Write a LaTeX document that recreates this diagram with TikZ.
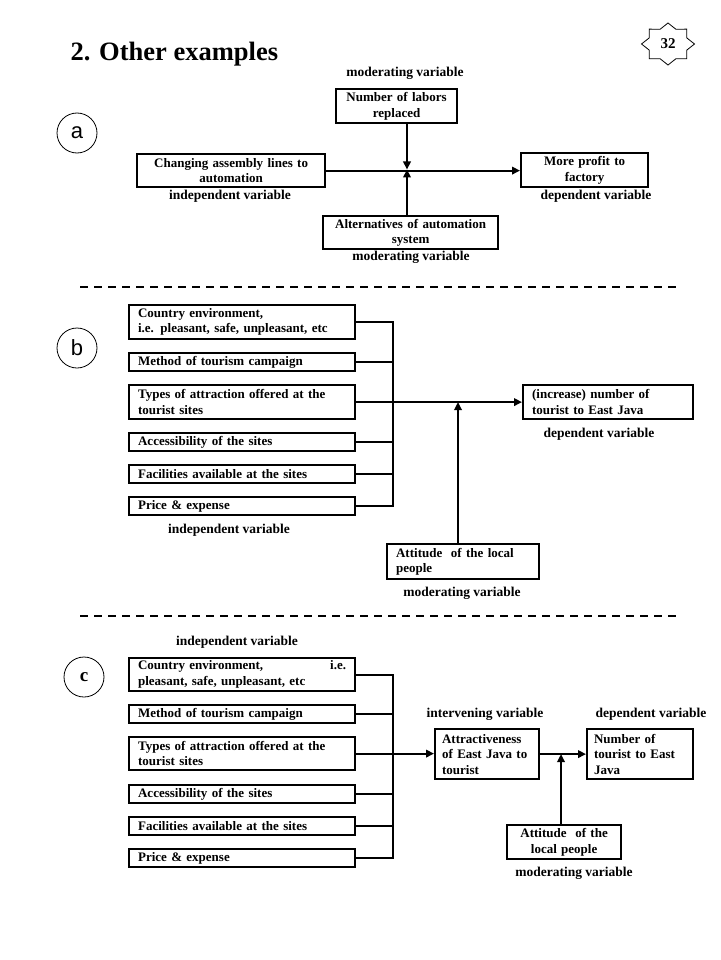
\documentclass[tikz,border=0pt]{standalone}
\usepackage{fontspec}
\setmainfont{Liberation Serif}
\setsansfont{Liberation Sans}
\usetikzlibrary{arrows.meta}
\tikzset{
  vbox/.style={draw, line width=2.2pt, inner xsep=9pt, inner ysep=0pt, anchor=north west, font=\fontsize{13}{15.5}\selectfont\bfseries},
  varlab/.style={anchor=base, font=\fontsize{13.5}{14.5}\selectfont\bfseries},
  link/.style={line width=2pt},
  tip/.style={line width=2pt, -{Triangle[length=8pt,width=7.5pt]}},
  tag/.style={circle, draw, line width=0.8pt, minimum size=40pt, inner sep=0pt},
  cut/.style={line width=2pt, dash pattern=on 8pt off 6pt}
}
\begin{document}
\begin{tikzpicture}[x=1pt, y=-1pt]
    \useasboundingbox[fill=white] (0,0) rectangle (720,960);

    \node[anchor=base west, font=\fontsize{26.5}{30}\selectfont\bfseries] (title) at (67,61) {2. Other examples};
    \coordinate (badge) at (668,44);
    \draw[line width=0.8pt, shift={(badge)}, x=26.5pt, y=21pt] (0:1)
        \foreach \k in {1,...,15}{ -- ({\k*22.5}:{1-0.235*mod(\k,2)}) } -- cycle;
    \node[font=\fontsize{15}{15}\selectfont\bfseries] (badge_num) at (badge) {32};

    \node[tag, font=\sffamily\fontsize{22}{22}\selectfont] (tag_a) at (77,133) {a};
    \node[tag, font=\sffamily\fontsize{22}{22}\selectfont] (tag_b) at (77,348) {b};
    \node[tag, font=\fontsize{19}{19}\selectfont\bfseries] (tag_c) at (84,677) {c};

    \node[varlab](A_modtop) at (405,77) {moderating variable};
    \node[vbox, align=center, inner xsep=3pt, text width=115pt, minimum height=34pt](A_labor) at (335,88) {Number of labors\\replaced};
    \node[vbox, align=center, inner xsep=3pt, text width=182pt, minimum height=33pt](A_change) at (136,153) {Changing assembly lines to\\automation};
    \node[vbox, align=center, inner xsep=3pt, text width=121pt, minimum height=34pt](A_profit) at (520,152) {More profit to\\factory};
    \node[vbox, align=center, inner xsep=3pt, text width=169pt, minimum height=33pt](A_alter) at (322,215) {Alternatives of automation\\system};
    \node[varlab](A_indep) at (230,200) {independent variable};
    \node[varlab](A_dep) at (596,200) {dependent variable};
    \node[varlab](A_modbot) at (411,260) {moderating variable};
    \coordinate (A_mid) at (407,169.5);

    \path[tip] (A_change.east) edge (A_change.east -| A_profit.west);
    \path[tip] (A_labor.south -| A_mid) edge (A_mid);
    \path[tip] (A_alter.north -| A_mid) edge (A_mid);

    \draw[cut] (80,287) -- (677,287);

    \node[vbox, align=left, text width=208pt, minimum height=34pt](B_env) at (128,304) {Country environment,\\i.e. pleasant, safe, unpleasant, etc};
    \node[vbox, align=left, text width=208pt, minimum height=18pt](B_method) at (128,352) {Method of tourism campaign};
    \node[vbox, align=left, text width=208pt, minimum height=34pt](B_types) at (128,384) {Types of attraction offered at the\\tourist sites};
    \node[vbox, align=left, text width=208pt, minimum height=18pt](B_access) at (128,432) {Accessibility of the sites};
    \node[vbox, align=left, text width=208pt, minimum height=18pt](B_facil) at (128,464) {Facilities available at the sites};
    \node[vbox, align=left, text width=208pt, minimum height=18pt](B_price) at (128,496) {Price \& expense};
    \node[varlab](B_indep) at (229,533) {independent variable};
    \node[vbox, align=left, text width=152pt, minimum height=34pt](B_dep) at (522,384) {(increase) number of\\tourist to East Java};
    \node[varlab](B_deplab) at (599,437) {dependent variable};
    \node[vbox, align=left, text width=134pt, minimum height=35pt](B_att) at (386,543) {Attitude \ of the local\\people};
    \node[varlab](B_modlab) at (462,596) {moderating variable};
    \coordinate (B_bus) at (393,0);
    \coordinate (B_mod) at (458,0);

    \draw[link] (B_env.east) -| (B_bus |- B_price.east) -- (B_price.east);
    \foreach \n in {B_method,B_access,B_facil}
        \draw[link] (\n.east) -- (\n.east -| B_bus);
    \path[tip] (B_types.east) edge (B_types.east -| B_dep.west);
    \path[tip] (B_att.north -| B_mod) edge (B_types.east -| B_mod);

    \draw[cut] (80,616) -- (677,616);

    \node[varlab](C_indep) at (237,645) {independent variable};
    \node[vbox, align=left, text width=208pt, minimum height=33pt](C_env) at (128,657) {Country environment,\hfill i.e.\\pleasant, safe, unpleasant, etc};
    \node[vbox, align=left, text width=208pt, minimum height=18pt](C_method) at (128,704) {Method of tourism campaign};
    \node[vbox, align=left, text width=208pt, minimum height=33pt](C_types) at (128,736) {Types of attraction offered at the\\tourist sites};
    \node[vbox, align=left, text width=208pt, minimum height=18pt](C_access) at (128,784) {Accessibility of the sites};
    \node[vbox, align=left, text width=208pt, minimum height=18pt](C_facil) at (128,816) {Facilities available at the sites};
    \node[vbox, align=left, text width=208pt, minimum height=18pt](C_price) at (128,848) {Price \& expense};
    \node[varlab](C_intlab) at (485,717) {intervening variable};
    \node[vbox, align=left, inner xsep=7pt, text width=90pt, minimum height=50pt](C_attr) at (434,728) {Attractiveness\\of East Java to\\tourist};
    \node[varlab](C_deplab) at (651,717) {dependent variable};
    \node[vbox, align=left, inner xsep=7pt, text width=92pt, minimum height=50pt](C_num) at (586,728) {Number of\\tourist to East\\Java};
    \node[vbox, align=center, inner xsep=3pt, text width=108pt, minimum height=34pt](C_att) at (506,824) {Attitude \ of the\\local people};
    \node[varlab](C_modlab) at (574,876) {moderating variable};
    \coordinate (C_bus) at (393,0);
    \coordinate (C_mod) at (561,0);

    \draw[link] (C_env.east) -| (C_bus |- C_price.east) -- (C_price.east);
    \foreach \n in {C_method,C_access,C_facil}
        \draw[link] (\n.east) -- (\n.east -| C_bus);
    \path[tip] (C_types.east) edge (C_types.east -| C_attr.west);
    \path[tip] (C_attr.east) edge (C_attr.east -| C_num.west);
    \path[tip] (C_att.north -| C_mod) edge (C_mod |- C_attr.east);

\end{tikzpicture}
\end{document}
